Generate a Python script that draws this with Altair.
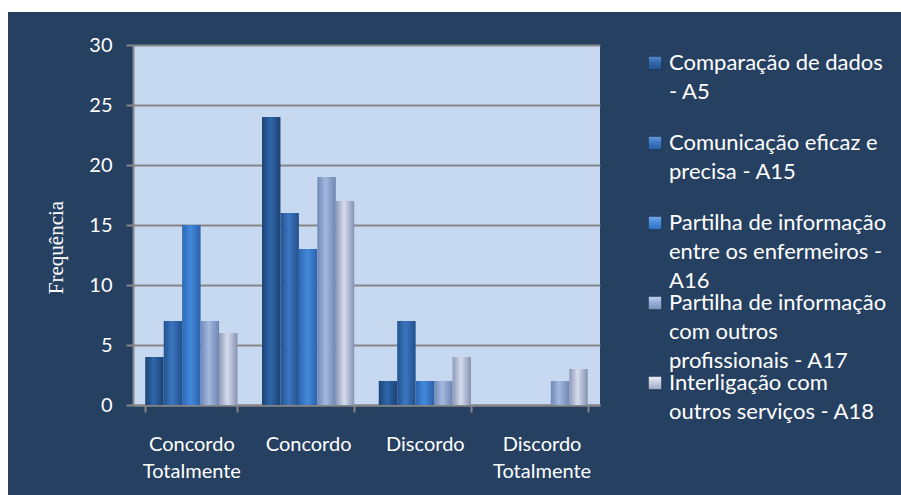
import altair as alt
import pandas as pd

categories = ["Concordo Totalmente", "Concordo", "Discordo", "Discordo Totalmente"]
series = [
    "Comparação de dados - A5",
    "Comunicação eficaz e precisa - A15",
    "Partilha de informação entre os enfermeiros - A16",
    "Partilha de informação com outros profissionais - A17",
    "Interligação com outros serviços - A18",
]
legend_lines = [
    ["Comparação de dados", "- A5"],
    ["Comunicação eficaz e", "precisa - A15"],
    ["Partilha de informação", "entre os enfermeiros -", "A16"],
    ["Partilha de informação", "com outros", "profissionais - A17"],
    ["Interligação com", "outros serviços - A18"],
]
values_a5 = [4, 24, 2, 0]
values_a15 = [7, 16, 7, 0]
values_a16 = [15, 13, 2, 0]
values_a17 = [7, 19, 2, 2]
values_a18 = [6, 17, 4, 3]
all_values = [values_a5, values_a15, values_a16, values_a17, values_a18]
y_ticks = [0, 5, 10, 15, 20, 25, 30]

# horizontal (cylinder-like) gradients per series
gradient_stops = [
    [("#1D4375", 0), ("#2F66AA", 0.45), ("#1C4273", 1)],
    [("#24538E", 0), ("#3B75C0", 0.45), ("#23518A", 1)],
    [("#2B66B2", 0), ("#4389DC", 0.45), ("#2A62AC", 1)],
    [("#7088B5", 0), ("#A4B9DF", 0.45), ("#6E85B1", 1)],
    [("#8C98B6", 0), ("#D5DCEE", 0.45), ("#8692B0", 1)],
]
# legend swatches: vertical bevel-like gradients
swatch_stops = [
    [("#5B8BD0", 0), ("#2F66AA", 0.5), ("#24548F", 1)],
    [("#6A9AD8", 0), ("#3B75C0", 0.5), ("#2C5E9E", 1)],
    [("#77A8EA", 0), ("#4389DC", 0.5), ("#316FBE", 1)],
    [("#C5D3EC", 0), ("#94ABD6", 0.5), ("#7A91BC", 1)],
    [("#EEF1F8", 0), ("#C4CCE0", 0.5), ("#9AA5C0", 1)],
]


def grad(stops, vertical=False):
    if vertical:
        coords = dict(x1=0, x2=0, y1=0, y2=1)
    else:
        coords = dict(x1=0, x2=1, y1=0, y2=0)
    return alt.Gradient(
        gradient="linear",
        stops=[alt.GradientStop(color=c, offset=o) for c, o in stops],
        **coords,
    )


rows = []
for s, vals in zip(series, all_values):
    for c, v in zip(categories, vals):
        rows.append({"category": c, "series": s, "value": v})
df = pd.DataFrame(rows)

legend_df = pd.DataFrame({"series": series, "label": ["\n".join(l) for l in legend_lines]})

GRAY = "#868686"
FONT = "Lato"

x_enc = alt.X(
    "category:N",
    scale=alt.Scale(domain=categories, paddingInner=0.21, paddingOuter=0.105),
    axis=alt.Axis(
        title=None, labelAngle=0, labelExpr="split(datum.label, ' ')",
        labelColor="white", labelFont=FONT, labelFontSize=20, labelLineHeight=27,
        labelPadding=22, tickBand="extent", tickSize=7, tickColor=GRAY, tickWidth=2,
        domainColor=GRAY, domainWidth=2, grid=False,
    ),
)
y_enc = alt.Y(
    "value:Q",
    scale=alt.Scale(domain=[0, 30], nice=False),
    axis=alt.Axis(
        values=y_ticks, grid=True, gridColor=GRAY, gridWidth=2,
        domainColor=GRAY, domainWidth=2, tickColor=GRAY, tickWidth=2, tickSize=7,
        labelColor="white", labelFont=FONT, labelFontSize=20, labelPadding=14,
        title="Frequência", titleFont="Liberation Serif", titleFontSize=21,
        titleFontWeight="normal", titleColor="white", titleAngle=270,
        titleX=-71, titleY=202, titleAlign="center", titleBaseline="alphabetic",
    ),
)
xoff_enc = alt.XOffset("series:N", scale=alt.Scale(domain=series, paddingInner=0, paddingOuter=0))

bar_layers = []
for i, s in enumerate(series):
    bar_layers.append(
        alt.Chart(df[df["series"] == s])
        .mark_bar(color=grad(gradient_stops[i]), opacity=1)
        .encode(x=x_enc, y=y_enc, xOffset=xoff_enc)
    )
bars = alt.layer(*bar_layers)

leg_y = alt.Y("series:N", scale=alt.Scale(domain=series, range=[18, 338], padding=0), axis=None)
legend_layers = []
for i, s in enumerate(series):
    legend_layers.append(
        alt.Chart(legend_df[legend_df["series"] == s])
        .mark_square(size=180, color=grad(swatch_stops[i], vertical=True), opacity=1,
                     filled=True, stroke="#1A3354", strokeWidth=0.8)
        .encode(x=alt.value(522), y=leg_y)
    )
legend_layers.append(
    alt.Chart(legend_df)
    .mark_text(align="left", baseline="alphabetic", dy=7, lineBreak="\n", lineHeight=29,
               font=FONT, fontSize=22, color="white")
    .encode(x=alt.value(536), y=leg_y, text="label:N")
)
legend = alt.layer(*legend_layers)

one = pd.DataFrame({"a": [0]})
frame_top = alt.Chart(one).mark_rect(color="white").encode(
    x=alt.value(-133), x2=alt.value(768), y=alt.value(-45), y2=alt.value(-33)
)
frame_left = alt.Chart(one).mark_rect(color="white").encode(
    x=alt.value(-133), x2=alt.value(-125), y=alt.value(-45), y2=alt.value(450)
)

chart = (
    alt.layer(bars, legend, frame_top, frame_left)
    .resolve_scale(y="independent")
    .properties(
        width=467, height=360,
        padding={"left": 133, "top": 45, "right": 301, "bottom": 90},
        autosize=alt.AutoSizeParams(type="none"),
        background="#264061",
    )
    .configure_view(fill="#C6D9F1", stroke=None)
)

chart.save("out.html", embed_options={"renderer": "svg", "actions": False})
